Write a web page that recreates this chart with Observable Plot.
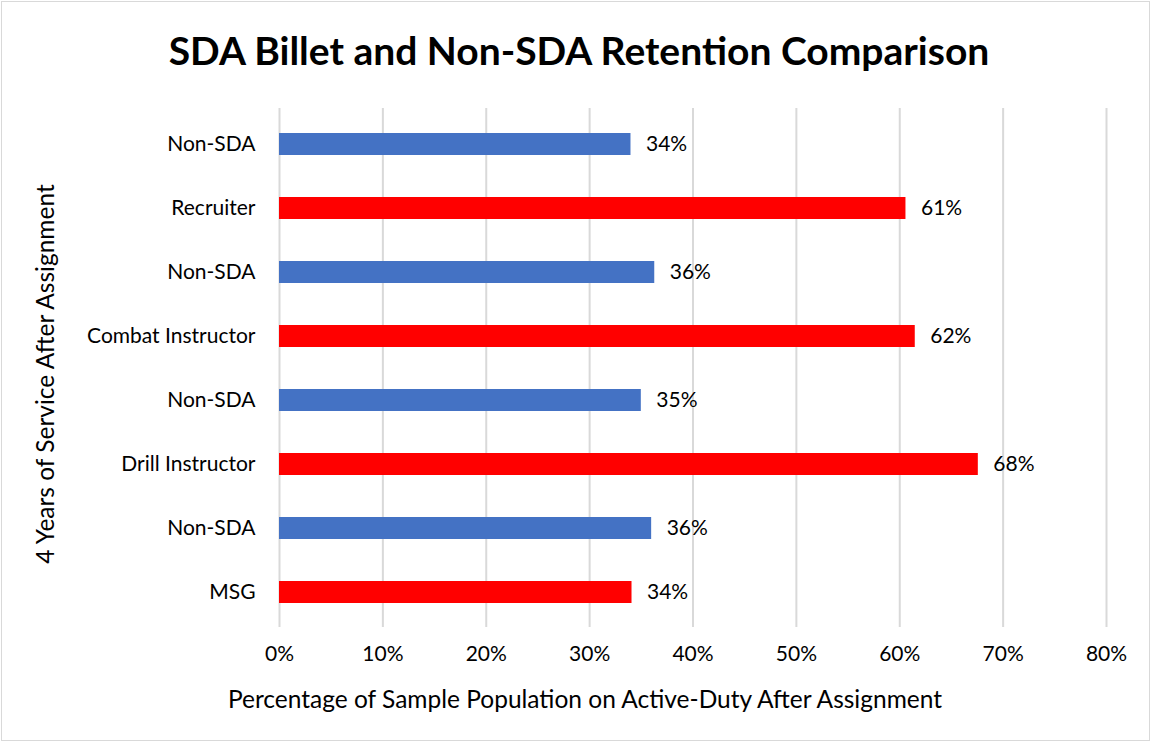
<!DOCTYPE html>
<html>
<head>
<meta charset="utf-8">
<script src="https://cdn.jsdelivr.net/npm/d3@7"></script>
<script src="https://cdn.jsdelivr.net/npm/@observablehq/plot@0.6"></script>
<style>
  html, body { margin: 0; padding: 0; background: #fff; }
  #wrap { position: relative; width: 1151px; height: 742px; overflow: hidden; font-family: Lato, "Open Sans", sans-serif; color: #000; }
  #frame { position: absolute; left: 1px; top: 1px; width: 1147px; height: 738px; border: 1px solid #d9d9d9; pointer-events: none; }
  #title { position: absolute; left: 0; top: 25px; width: 1158px; text-align: center; font-size: 39px; font-weight: bold; line-height: 50px; }
  #xlabel { position: absolute; left: 0; top: 684px; width: 1170px; text-align: center; font-size: 24.5px; line-height: 30px; white-space: nowrap; }
  #ylabel { position: absolute; left: 45px; top: 374px; transform: translate(-50%, -50%) rotate(-90deg); font-size: 24.5px; line-height: 30px; white-space: nowrap; }
  #chart { position: absolute; left: 0; top: 0; }
</style>
</head>
<body>
<div id="wrap">
  <div id="chart"></div>
  <div id="title">SDA Billet and Non-SDA Retention Comparison</div>
  <div id="xlabel">Percentage of Sample Population on Active-Duty After Assignment</div>
  <div id="ylabel">4 Years of Service After Assignment</div>
  <div id="frame"></div>
</div>
<script>
// Categories, top to bottom
const categories = ["Non-SDA", "Recruiter", "Non-SDA", "Combat Instructor", "Non-SDA", "Drill Instructor", "Non-SDA", "MSG"];
// Group of each bar
const groups = ["Non-SDA", "SDA", "Non-SDA", "SDA", "Non-SDA", "SDA", "Non-SDA", "SDA"];
// Percentage on active duty
const values = [34.0, 60.6, 36.3, 61.5, 35.0, 67.6, 36.0, 34.1];
const xTicks = [0, 10, 20, 30, 40, 50, 60, 70, 80];
const groupNames = ["Non-SDA", "SDA"];
const groupColors = ["#4472C4", "#FF0000"];

const data = categories.map((c, i) => ({key: String(i), category: c, group: groups[i], value: values[i]}));
const keys = data.map(d => d.key);

const chart = Plot.plot({
  width: 1151,
  height: 742,
  marginTop: 108,
  marginBottom: 115,
  marginLeft: 279,
  marginRight: 45,
  style: {fontFamily: "Lato, 'Open Sans', sans-serif", fontSize: "21px", color: "#000", background: "transparent"},
  x: {domain: [0, 80], label: null},
  y: {domain: keys, paddingInner: 0.66, paddingOuter: 0.33, label: null},
  color: {domain: groupNames, range: groupColors},
  marks: [
    Plot.gridX(xTicks, {stroke: "#d9d9d9", strokeOpacity: 1, strokeWidth: 2}),
    Plot.barX(data, {x: "value", y: "key", fill: "group"}),
    Plot.text(data, {x: "value", y: "key", text: d => Math.round(d.value) + "%", textAnchor: "start", dx: 15, fill: "#000", fontSize: 21}),
    Plot.axisX(xTicks, {tickSize: 0, tickPadding: 19, tickFormat: d => d + "%", fontSize: 21, label: null}),
    Plot.axisY({tickSize: 0, tickPadding: 24, tickFormat: k => categories[+k], fontSize: 21, label: null})
  ]
});
document.getElementById("chart").appendChild(chart);
</script>
</body>
</html>
